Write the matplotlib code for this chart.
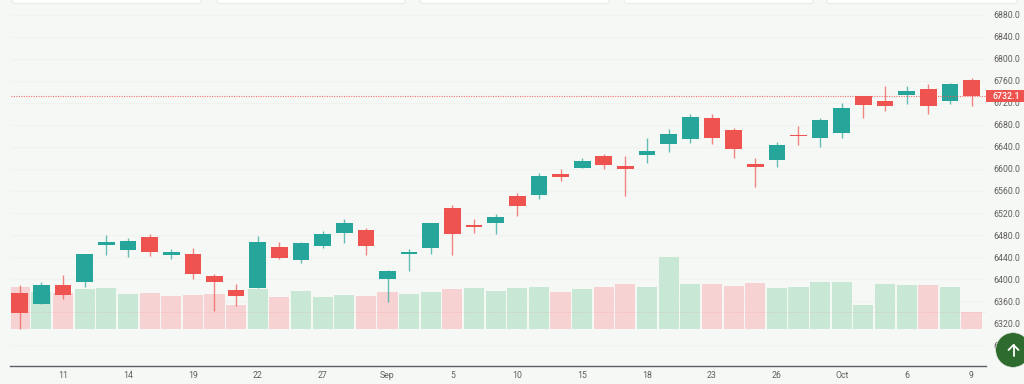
import matplotlib
matplotlib.use("Agg")
import matplotlib.pyplot as plt
from matplotlib.patches import FancyBboxPatch, Rectangle, Circle

plt.rcParams['font.family'] = ['Roboto', 'DejaVu Sans']

# candles
opens = [6375, 6354, 6389, 6395, 6462, 6453, 6477, 6444, 6446, 6406, 6381, 6383, 6458, 6435, 6461,
         6483, 6489, 6401, 6445, 6456, 6529, 6498, 6502, 6550, 6553, 6590, 6602, 6624, 6605, 6626,
         6646, 6654, 6692, 6670, 6609, 6616, 6662, 6656, 6665, 6732, 6723, 6734, 6746, 6723, 6761]
closes = [6339, 6389, 6372, 6446, 6467, 6469, 6449, 6449, 6410, 6395, 6369, 6467, 6439, 6466, 6481,
          6502, 6460, 6415, 6449, 6502, 6481, 6495, 6512, 6532, 6587, 6585, 6615, 6607, 6600, 6632,
          6664, 6694, 6657, 6637, 6604, 6644, 6660, 6689, 6711, 6716, 6715, 6741, 6714, 6754, 6732]
highs = [6389, 6395, 6408, 6446, 6480, 6474, 6481, 6455, 6456, 6409, 6392, 6478, 6467, 6468, 6488,
         6509, 6492, 6417, 6454, 6502, 6534, 6509, 6519, 6556, 6593, 6600, 6620, 6627, 6624, 6657,
         6672, 6700, 6700, 6674, 6619, 6649, 6678, 6692, 6719, 6732, 6751, 6750, 6755, 6756, 6766]
lows = [6309, 6354, 6364, 6385, 6444, 6441, 6442, 6437, 6400, 6343, 6352, 6383, 6437, 6429, 6457,
        6466, 6444, 6359, 6415, 6445, 6443, 6483, 6481, 6515, 6545, 6579, 6601, 6599, 6550, 6611,
        6630, 6648, 6645, 6620, 6568, 6604, 6643, 6640, 6656, 6693, 6705, 6717, 6700, 6717, 6714]

# volume bars, in pixels of height over the base
volumes = [42, 37.3, 36.7, 40.7, 41.3, 35.7, 36.3, 33.3, 34.7, 35.3, 24, 40, 32, 38.3, 32.7,
           34.3, 33.7, 37.7, 35.3, 37.3, 40, 41.3, 38, 41.3, 42.7, 37.3, 40, 42.7, 45.3, 42,
           72.3, 45, 45, 43.3, 46.3, 41, 42.3, 47.7, 47.7, 24, 45, 44.3, 44.3, 42.7, 17.7]
volume_up = [0, 1, 0, 1, 1, 1, 0, 0, 0, 0, 0, 1, 0, 1, 1,
             1, 0, 0, 1, 1, 0, 1, 1, 1, 1, 0, 1, 0, 0, 1,
             1, 1, 0, 0, 0, 1, 1, 1, 1, 1, 1, 1, 0, 1, 0]

x_tick_pos = [2, 5, 8, 11, 14, 17, 20, 23, 26, 29, 32, 35, 38, 41, 44]
x_tick_labels = ['11', '14', '19', '22', '27', 'Sep', '5', '10', '15', '18', '23', '26', 'Oct', '6', '9']
y_ticks = list(range(6280, 6881, 40))
last_price = 6732.1

TEAL = '#26a69a'
RED = '#ef5350'
BG = '#f6f8f5'
VOL_BASE = 6309
VOL_SCALE = 1.815

fig = plt.figure(figsize=(10.24, 3.84), dpi=100, facecolor=BG)
ax = fig.add_axes([10.5 / 1024, 18.4 / 384, 975.5 / 1024, 365.6 / 384], facecolor=BG)

# volume
vol_colors = ['#c9e7d5' if up else '#f6d2d2' for up in volume_up]
ax.bar(range(len(volumes)), [v * VOL_SCALE for v in volumes], bottom=VOL_BASE,
       width=0.93, color=vol_colors, zorder=1)
ax.axhline(VOL_BASE + volumes[-1] * VOL_SCALE, color=RED, lw=0.7, ls=(0, (1, 1.5)), alpha=0.2, zorder=2)

# candles
for i in range(len(opens)):
    c = TEAL if closes[i] >= opens[i] else RED
    ax.vlines(i, lows[i], highs[i], color=c, lw=1, alpha=0.7, zorder=3)
    ax.bar(i, abs(closes[i] - opens[i]), bottom=min(opens[i], closes[i]), width=0.77,
           color=c, zorder=4)

ax.axhline(last_price, color=RED, lw=0.8, ls=(0, (1, 1.2)), alpha=0.8, zorder=5)

ax.set_xlim(-0.43, 44.67)
ax.set_ylim(6243, 6906.7)
ax.set_xticks(x_tick_pos, x_tick_labels)
ax.set_yticks(y_ticks, [f'{t:.1f}' for t in y_ticks])
ax.yaxis.tick_right()
ax.tick_params(axis='both', length=0, labelsize=6.3, labelcolor='#5f5f5f')
ax.tick_params(axis='y', pad=5)
ax.tick_params(axis='x', pad=4)
ax.grid(axis='y', color='#f1f3f0', lw=0.8, zorder=0)
ax.set_axisbelow(True)
for s in ['top', 'left', 'right']:
    ax.spines[s].set_visible(False)
ax.spines['bottom'].set_color('#5d6068')
ax.spines['bottom'].set_linewidth(1)

# page furniture in pixel coordinates
over = fig.add_axes([0, 0, 1, 1], facecolor='none', zorder=10)
over.set_xlim(0, 1024)
over.set_ylim(384, 0)
over.axis('off')

for left, right in [(12, 201), (217, 405), (420, 609), (624, 813), (827, 1017)]:
    over.add_patch(FancyBboxPatch((left + 3, -8), right - left - 6, 8.5, boxstyle='round,pad=3',
                                  fc='white', ec='#e9ebe8', lw=0.8))

over.add_patch(Rectangle((986, 90), 38, 12, fc=RED, ec='none'))
over.text(992.5, 96.2, f'{last_price:.1f}', color='white', fontsize=6.3, va='center', ha='left',
          fontweight='medium')

# scroll-to-top button
over.add_patch(Circle((1013, 350), 17.3, fc='#2e6b2e', ec='#dfe6de', lw=0.4))
over.plot([1013.5, 1013.5], [356, 345], color='white', lw=1.3, solid_capstyle='round')
over.plot([1008.5, 1013.5, 1018.5], [350, 345, 350], color='white', lw=1.3, solid_capstyle='round')

fig.savefig('out.png', dpi=100, facecolor=BG)
